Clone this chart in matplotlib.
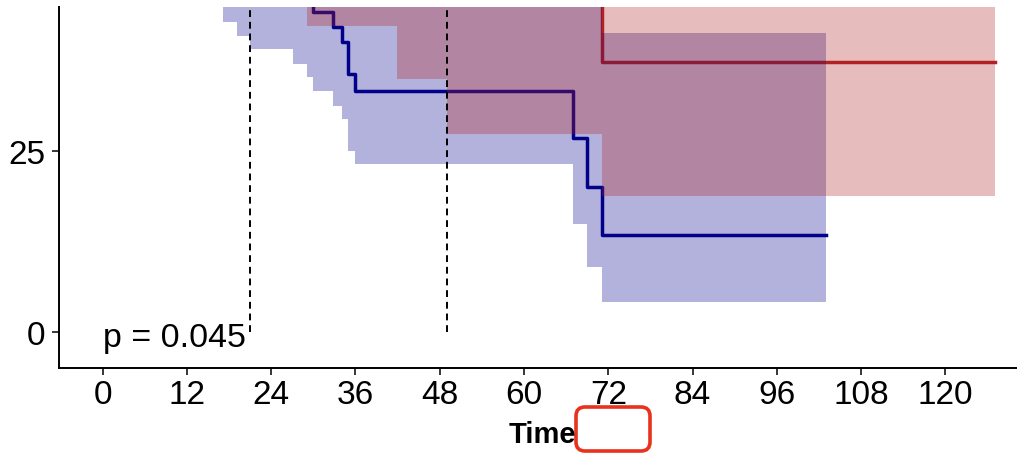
import matplotlib
matplotlib.use("Agg")
import matplotlib.pyplot as plt
from matplotlib.patches import FancyBboxPatch

plt.rcParams['font.family'] = ['Liberation Sans', 'DejaVu Sans']

# Kaplan-Meier data (months, survival %)
# blue group
blue_t = [0, 17.1, 19.1, 21.0, 27.1, 29.1, 30.0, 32.8, 34.1, 35.0, 35.9, 67.0, 69.0, 71.1, 103.0]
blue_s = [100, 54.2, 52.1, 49.9, 48.0, 46.1, 44.2, 42.1, 40.0, 35.6, 33.3, 26.7, 20.0, 13.3, 13.3]
blue_lo = [100, 42.8, 40.8, 39.0, 37.0, 35.2, 33.2, 31.2, 29.4, 25.0, 23.1, 14.9, 8.9, 4.1, 4.1]
blue_hi = [100, 67.5, 65.6, 63.6, 61.8, 60.0, 58.1, 56.2, 54.3, 50.4, 48.4, 47.5, 46.0, 41.3, 41.3]

# red group
red_t = [0, 29.1, 41.9, 49.0, 71.1, 127.0]
red_s = [100, 58.3, 52.5, 46.7, 37.3, 37.3]
red_lo = [100, 42.2, 34.9, 27.3, 18.7, 18.7]
red_hi = [100, 76.0, 72.0, 67.0, 62.0, 62.0]

median_times = [21.0, 49.0]
x_ticks = [0, 12, 24, 36, 48, 60, 72, 84, 96, 108, 120]
y_ticks = [0, 25]
p_text = "p = 0.045"

blue = '#00008B'
red = '#B22222'

W, H = 1017, 456
fig = plt.figure(figsize=(W / 100, H / 100), dpi=100)
ax = fig.add_axes([59 / W, (H - 369.3) / H, 1 - 59 / W, (369.3 - 8) / H])

# lines first, ribbons drawn over them (as in the original)
ax.step(blue_t, blue_s, where='post', color=blue, lw=2.5, zorder=1)
ax.step(red_t, red_s, where='post', color=red, lw=2.5, zorder=1)
ax.fill_between(blue_t, blue_lo, blue_hi, step='post', color=blue, alpha=0.3,
                lw=0, zorder=2)
ax.fill_between(red_t, red_lo, red_hi, step='post', color=red, alpha=0.3,
                lw=0, zorder=3)

for m in median_times:
    ax.plot([m, m], [0, 50], color='black', lw=1.4, ls=(0, (3.5, 2.5)), zorder=4)

ax.text(0, -1.98, p_text, fontsize=24.5, ha='left', va='baseline', zorder=5)

ax.set_xlim(-6.22, 130.2)
ax.set_ylim(-5.06, 44.85)
ax.set_xticks(x_ticks)
ax.set_yticks(y_ticks)
ax.tick_params(labelsize=24, length=5, width=1.1, colors='black', pad=3)
ax.tick_params(axis='y', pad=5)
for s in ['top', 'right']:
    ax.spines[s].set_visible(False)
for s in ['left', 'bottom']:
    ax.spines[s].set_linewidth(1.4)

# overlay in pixel coordinates for the axis title and the red marker box
ov = fig.add_axes([0, 0, 1, 1], facecolor='none')
ov.set_xlim(0, W)
ov.set_ylim(H, 0)
ov.axis('off')
ov.text(509, 443, "Time", fontsize=21, fontweight='bold', ha='left', va='baseline')
box = FancyBboxPatch((576, 408), 74, 44, boxstyle='round,pad=0,rounding_size=9',
                     facecolor='white', edgecolor='#E8321E', lw=2.6)
ov.add_patch(box)

fig.savefig('out.png', dpi=100)
